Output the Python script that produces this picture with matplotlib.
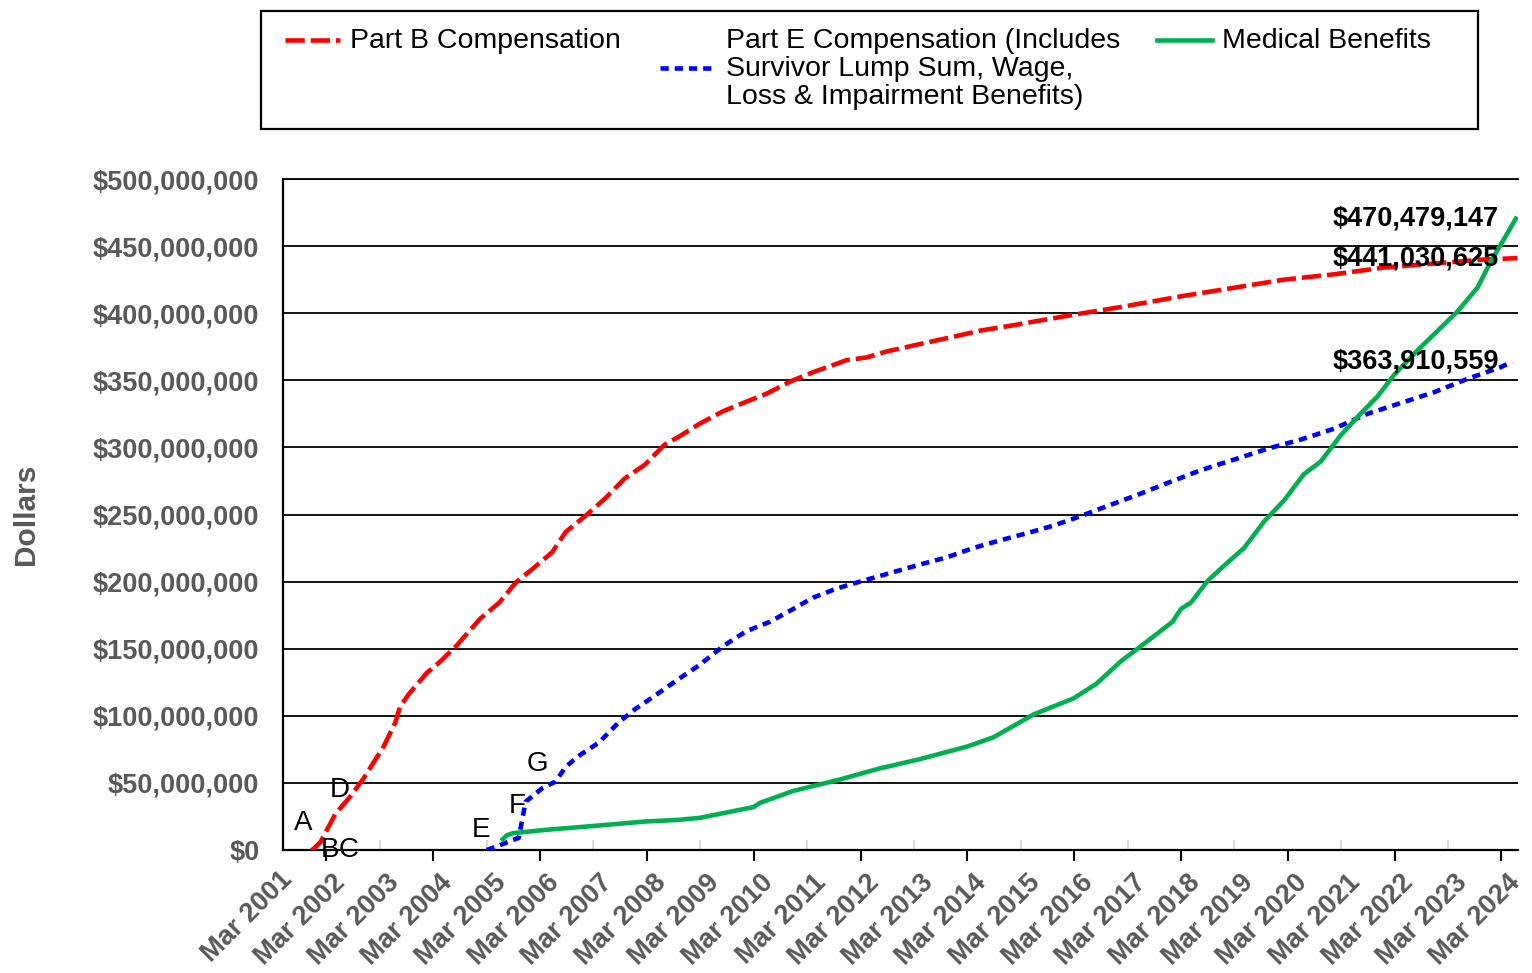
import matplotlib
matplotlib.use("Agg")
import matplotlib.pyplot as plt
from matplotlib.lines import Line2D
from matplotlib.patches import Rectangle
import matplotlib.transforms as mtransforms
import numpy as np

plt.rcParams['font.family'] = ['Liberation Sans', 'DejaVu Sans']

# x = years since March 2001
tick_labels = ["Mar %d" % y for y in range(2001, 2025)]

partb_t = [0.70, 0.74, 0.89, 1.17, 1.45, 1.70, 2.07, 2.29, 2.38, 2.54, 2.88, 3.12, 3.43,
           3.87, 4.24, 4.55, 4.86, 5.23, 5.48, 5.85, 6.22, 6.59, 6.96, 7.33, 7.60, 7.99,
           8.43, 8.86, 9.24, 9.68, 10.11, 10.74, 11.11, 11.49, 12.11, 12.80, 13.24, 13.86,
           14.86, 15.86, 16.50, 17.06, 18.00, 18.93, 19.87, 20.80, 21.73, 22.67, 23.30]
partb_v = [0, 0, 6, 27, 40, 53.6, 77, 95, 107, 116, 132, 140, 152, 172, 184.5, 199.5,
           209.5, 222, 237, 249, 262, 277, 287, 302, 308, 317.7, 327, 334, 340, 349, 356,
           365, 367, 371.5, 377, 383, 387, 391, 398, 404.5, 409, 413, 419, 425, 429, 434,
           437, 440, 441.030625]

parte_t = [4.00, 4.18, 4.49, 4.60, 4.73, 5.04, 5.29, 5.48, 5.72, 6.10, 6.47, 6.78, 7.15,
           7.58, 7.99, 8.43, 8.86, 9.30, 9.74, 10.11, 10.55, 10.99, 11.61, 12.11, 12.61,
           13.11, 13.61, 14.11, 14.61, 15.11, 15.60, 16.13, 16.75, 17.37, 18.00, 18.62,
           19.24, 19.87, 20.49, 21.11, 21.73, 22.36, 23.00, 23.20]
parte_v = [0, 2.5, 7.5, 9, 36, 46, 51, 62, 70, 80, 95, 105, 115, 127, 138, 152, 163, 170,
           179.6, 188, 194.8, 200, 207, 212.7, 218, 225, 230.7, 236, 241.7, 248.6, 256,
           263.8, 273.5, 283, 291, 299, 305.8, 314, 325, 333, 341, 351, 360, 363.910559]

med_t = [4.30, 4.38, 4.49, 5.10, 6.03, 6.96, 7.61, 8.00, 8.50, 9.00, 9.11, 9.74, 10.61,
         11.36, 12.11, 12.99, 13.49, 14.24, 14.99, 15.42, 15.88, 16.31, 16.84, 17.00, 17.19,
         17.50, 17.81, 18.18, 18.56, 18.93, 19.30, 19.62, 19.99, 20.36, 20.68, 20.99, 21.42,
         21.80, 22.17, 22.55, 22.80, 23.04, 23.27]
med_v = [8, 11, 12.5, 15, 18, 21.2, 22.5, 24, 28, 32, 35, 44, 52.5, 60.8, 67.7, 77, 84,
         101, 113, 124, 140.8, 153.7, 170, 179.6, 184.5, 200.6, 212, 225, 245, 260.5, 280,
         289.6, 309, 325, 338, 354, 372, 386.7, 401, 419, 438.5, 454.7, 470.479147]

point_labels = ["A", "B", "C", "D", "E", "F", "G"]
point_t = [0.56, 1.07, 1.42, 1.25, 3.90, 4.57, 4.96]
point_v = [20, 0, 0, 45, 15, 33, 64]

series_names = ["Part B Compensation",
                "Part E Compensation (Includes\nSurvivor Lump Sum, Wage,\nLoss & Impairment Benefits)",
                "Medical Benefits"]

RED, BLUE, GREEN = "#FF0000", "#0000FF", "#00B050"
GRAY = "#595959"
W, H = 1532, 973
fig = plt.figure(figsize=(W / 100, H / 100), dpi=100)

def fx(px):
    return px / W

def fy(py):
    return 1 - py / H

ax = fig.add_axes([fx(283), fy(850), fx(1518) - fx(283), fy(179) - fy(850)])

M = 1e6
red_style = dict(color=RED, lw=3.3, linestyle=(0, (4.2, 1.3)), dash_capstyle='butt')
blue_style = dict(color=BLUE, lw=3.3, linestyle=(0, (1.8, 1.3)), dash_capstyle='butt')
green_style = dict(color=GREEN, lw=3.3, linestyle='-')

ax.plot(np.array(partb_t), np.array(partb_v) * M, zorder=4, **red_style)
ax.plot(np.array(parte_t), np.array(parte_v) * M, zorder=4, **blue_style)
ax.plot(np.array(med_t), np.array(med_v) * M, zorder=4, **green_style)

ax.set_xlim(0.187, 23.31)
ax.set_ylim(0, 500 * M)

yt = np.arange(0, 501, 50) * M
ax.set_yticks(yt)
ax.set_yticklabels(["${:,.0f}".format(v) for v in yt])
for v in yt[1:]:
    ax.axhline(v, color='black', lw=1.3, zorder=2)

TICKFS = 19.5
ax.tick_params(axis='y', length=0, pad=17, labelsize=TICKFS, labelcolor=GRAY)
for lab in ax.get_yticklabels():
    lab.set_fontweight('bold')

xt = np.arange(1, 24)
ax.set_xticks(xt)
ax.set_xticklabels(tick_labels[1:], rotation=45, ha='right', va='top',
                   rotation_mode='anchor', fontsize=TICKFS, color=GRAY, fontweight='bold')
ax.tick_params(axis='x', which='major', length=8, width=1.5, direction='out', pad=6)
for tk, t in zip(ax.xaxis.get_major_ticks(), xt):
    tk.tick1line.set_visible(t % 2 == 1)
ax.set_xticks(np.arange(2, 24, 2), minor=True)
ax.xaxis.remove_overlapping_locs = False
ax.tick_params(axis='x', which='minor', length=7, width=1.2, direction='in', color='#d4d4d4')

off = mtransforms.ScaledTranslation(6 / 100, 0, fig.dpi_scale_trans)
for lab in ax.get_xticklabels():
    lab.set_transform(lab.get_transform() + off)
# first category label lies left of the plotting area
ax.text(0, 0, tick_labels[0], transform=ax.get_xaxis_transform() + off +
        mtransforms.ScaledTranslation(0, -(8 + 6 * 100 / 72) / 100, fig.dpi_scale_trans),
        rotation=45, ha='right', va='top', rotation_mode='anchor', fontsize=TICKFS,
        color=GRAY, fontweight='bold', clip_on=False)

ax.spines['right'].set_visible(False)
ax.spines['left'].set_linewidth(1.6)
ax.spines['bottom'].set_linewidth(1.6)
ax.spines['top'].set_linewidth(1.3)

for lab, t, v in zip(point_labels, point_t, point_v):
    ax.text(t, v * M, lab, fontsize=20, ha='center', va='center', color='black',
            zorder=5, clip_on=False)

for vals in (med_v, partb_v, parte_v):
    ax.text(22.95, vals[-1] * M, "${:,.0f}".format(vals[-1] * M), fontsize=19.5,
            fontweight='bold', ha='right', va='center', color='black', zorder=6)

fig.text(fx(26), fy(514), "Dollars", rotation=90, ha='center', va='center',
         fontsize=21.5, fontweight='bold', color=GRAY)

# legend
fig.add_artist(Rectangle((fx(261), fy(129)), fx(1478) - fx(261), fy(11) - fy(129),
                         transform=fig.transFigure, fill=False, edgecolor='black', lw=1.6))
leg = [(285, 340, 40, 350, red_style, series_names[0]),
       (660, 715, 68, 726, blue_style, series_names[1]),
       (1157, 1212, 40, 1222, green_style, series_names[2])]
for x0, x1, yy, xt0, st, name in leg:
    fig.add_artist(Line2D([fx(x0), fx(x1)], [fy(yy), fy(yy)], transform=fig.transFigure, **st))
    fig.text(fx(xt0), fy(yy + 1), name, ha='left', va='center', fontsize=20.5,
             linespacing=1.08, color='black')

fig.savefig("out.png", dpi=100)
